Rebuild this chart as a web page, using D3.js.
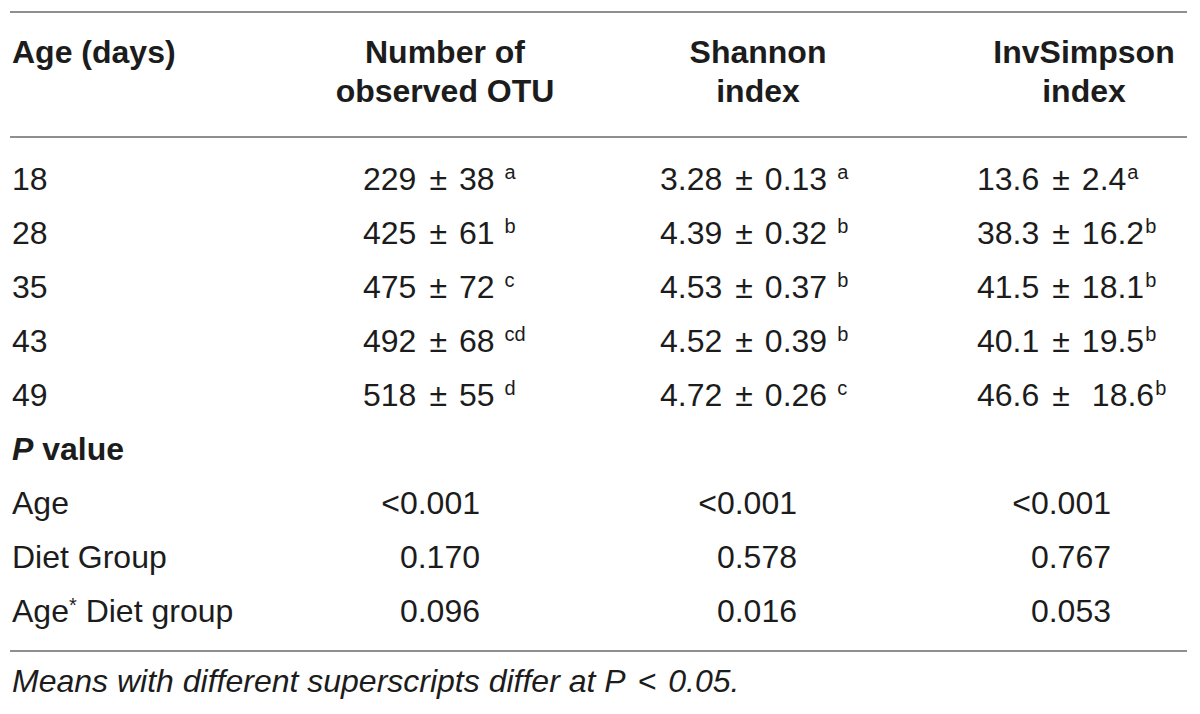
<!DOCTYPE html>
<html>
<head>
<meta charset="utf-8">
<script src="https://cdn.jsdelivr.net/npm/d3@7/dist/d3.min.js"></script>
<style>
  body { margin: 0; background: #fff; }
  text { font-family: "Liberation Sans", Arial, sans-serif; fill: #1c1c1c; }
</style>
</head>
<body>
<script>
// table content
var columns = ["Age (days)", "Number of|observed OTU", "Shannon|index", "InvSimpson|index"];
var ages = ["18", "28", "35", "43", "49"];

var otuMean = ["229", "425", "475", "492", "518"];
var otuSd = ["38", "61", "72", "68", "55"];
var otuSup = ["a", "b", "c", "cd", "d"];

var shannonMean = ["3.28", "4.39", "4.53", "4.52", "4.72"];
var shannonSd = ["0.13", "0.32", "0.37", "0.39", "0.26"];
var shannonSup = ["a", "b", "b", "b", "c"];

var invMean = ["13.6", "38.3", "41.5", "40.1", "46.6"];
var invSd = ["2.4", "16.2", "18.1", "19.5", "18.6"];
var invSup = ["a", "b", "b", "b", "b"];

var pLabels = ["Age", "Diet Group", "Age* Diet group"];
var pOtu = ["<0.001", "0.170", "0.096"];
var pShannon = ["<0.001", "0.578", "0.016"];
var pInv = ["<0.001", "0.767", "0.053"];

var footnote = "Means with different superscripts differ at ";

function drawTable() {
    var width = 1200;
    var height = 714;
    var fontSize = 32;
    var supSize = 20;

    var svg = d3.select("body")
                .append("svg")
                .attr("width", width)
                .attr("height", height);

    // column centres for headers, left starts for values, right ends for p values
    var colCenter = d3.scaleOrdinal().domain([1, 2, 3]).range([445, 758, 1084]);
    var colStart = d3.scaleOrdinal().domain([1, 2, 3]).range([363, 660, 977]);
    var colEnd = d3.scaleOrdinal().domain([1, 2, 3]).range([480, 797, 1111]);

    // body row baselines
    var rowY = d3.scaleLinear().domain([0, 8]).range([190, 622]);

    // rules
    var rules = [12, 137, 651];
    svg.selectAll("line.rule")
        .data(rules)
        .enter()
        .append("line")
        .attr("class", "rule")
        .attr("x1", 10)
        .attr("x2", 1187)
        .attr("y1", function(d) { return d; })
        .attr("y2", function(d) { return d; })
        .attr("stroke", "#8f8f8f")
        .attr("stroke-width", 2);

    // header
    columns.forEach(function(c, i) {
        var lines = c.split("|");
        lines.forEach(function(l, j) {
            svg.append("text")
                .attr("x", i == 0 ? 12 : colCenter(i))
                .attr("y", 63 + j * 39)
                .attr("text-anchor", i == 0 ? "start" : "middle")
                .style("font-size", fontSize + "px")
                .style("font-weight", "bold")
                .text(l);
        });
    });

    var groups = [
        [otuMean, otuSd, otuSup, 10],
        [shannonMean, shannonSd, shannonSup, 10],
        [invMean, invSd, invSup, 1]
    ];

    ages.forEach(function(a, r) {
        svg.append("text")
            .attr("x", 12)
            .attr("y", rowY(r))
            .style("font-size", fontSize + "px")
            .text(a);

        groups.forEach(function(g, k) {
            var t = svg.append("text")
                .attr("x", colStart(k + 1))
                .attr("y", rowY(r))
                .style("font-size", fontSize + "px");
            t.append("tspan").text(g[0][r]);
            t.append("tspan").attr("dx", 13).text("\u00B1");
            // the last InvSimpson value has a wider gap in the source
            t.append("tspan").attr("dx", (k == 2 && r == 4) ? 22 : 12).text(g[1][r]);
            t.append("tspan")
                .attr("dx", g[3])
                .attr("dy", -11)
                .style("font-size", supSize + "px")
                .text(g[2][r]);
        });
    });

    // P value section
    var pt = svg.append("text")
        .attr("x", 12)
        .attr("y", rowY(5))
        .style("font-size", fontSize + "px")
        .style("font-weight", "bold");
    pt.append("tspan").style("font-style", "italic").text("P");
    pt.append("tspan").text(" value");

    var pCols = [pOtu, pShannon, pInv];
    pLabels.forEach(function(l, r) {
        var t = svg.append("text")
            .attr("x", 12)
            .attr("y", rowY(6 + r))
            .style("font-size", fontSize + "px");
        if (l.indexOf("*") > -1) {
            var parts = l.split("*");
            t.append("tspan").text(parts[0]);
            t.append("tspan").attr("dy", -10).style("font-size", supSize + "px").text("*");
            t.append("tspan").attr("dy", 10).text(parts[1]);
        } else {
            t.text(l);
        }

        pCols.forEach(function(col, k) {
            svg.append("text")
                .attr("x", colEnd(k + 1))
                .attr("y", rowY(6 + r))
                .attr("text-anchor", "end")
                .style("font-size", fontSize + "px")
                .text(col[r]);
        });
    });

    var fn = svg.append("text")
        .attr("x", 12)
        .attr("y", 692)
        .style("font-size", fontSize + "px")
        .style("font-style", "italic");
    fn.append("tspan").text(footnote + "P");
    fn.append("tspan").attr("dx", 12).text("<");
    fn.append("tspan").attr("dx", 12).text("0.05.");
}

window.onload = function() {
    drawTable();
};
</script>
</body>
</html>
